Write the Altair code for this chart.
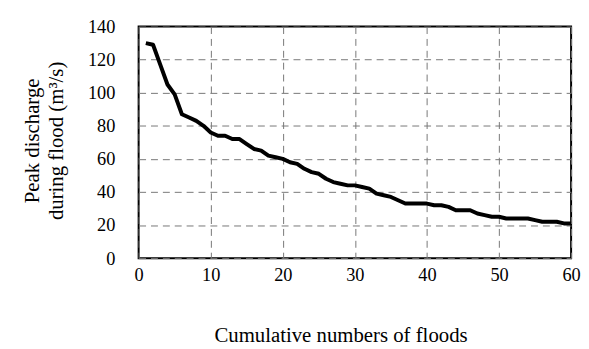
import altair as alt
import pandas as pd

floods = list(range(1, 61))
discharge = [130, 129, 117, 105, 99, 87, 85, 83, 80, 76,
             74, 74, 72, 72, 69, 66, 65, 62, 61, 60,
             58, 57, 54, 52, 51, 48, 46, 45, 44, 44,
             43, 42, 39, 38, 37, 35, 33, 33, 33, 33,
             32, 32, 31, 29, 29, 29, 27, 26, 25, 25,
             24, 24, 24, 24, 23, 22, 22, 22, 21, 21]
x_ticks = [0, 10, 20, 30, 40, 50, 60]
y_ticks = [0, 20, 40, 60, 80, 100, 120, 140]

df = pd.DataFrame({"n": floods, "q": discharge})

FONT = "Liberation Serif"

chart = alt.Chart(df).mark_line(color="black", strokeWidth=4, strokeJoin="round").encode(
    x=alt.X("n:Q", scale=alt.Scale(domain=[0, 60], nice=False),
            axis=alt.Axis(values=x_ticks, title="Cumulative numbers of floods",
                          titleX=204, titleY=84, titleAlign="center",
                          titleBaseline="alphabetic", titleAnchor="start",
                          labelPadding=8, tickSize=0, domain=False,
                          labelFlush=False, labelOverlap=False,
                          gridDash=[7, 5], gridColor="#777", gridWidth=1)),
    y=alt.Y("q:Q", scale=alt.Scale(domain=[0, 140], nice=False),
            axis=alt.Axis(values=y_ticks, title=["Peak discharge", "during flood (m³/s)"],
                          titleX=-107, titleY=115, titleAngle=-90, titleBaseline="middle",
                          titleAlign="center", titleLineHeight=24,
                          labelPadding=24, tickSize=0, domain=False,
                          labelFlush=False, labelOverlap=False,
                          gridDash=[7, 5], gridColor="#777", gridWidth=1)),
).properties(
    width=437, height=234,
    autosize=alt.AutoSizeParams(type="none"),
    padding={"left": 132, "top": 17, "right": 10, "bottom": 86},
).configure(
    background="white"
).configure_view(
    stroke="black", strokeWidth=2
).configure_axis(
    labelFont=FONT, titleFont=FONT, labelFontSize=18.5, titleFontSize=21,
    labelColor="black", titleColor="black", titleFontWeight="normal",
)

chart.save("out.html", embed_options={"renderer": "svg", "actions": False})
